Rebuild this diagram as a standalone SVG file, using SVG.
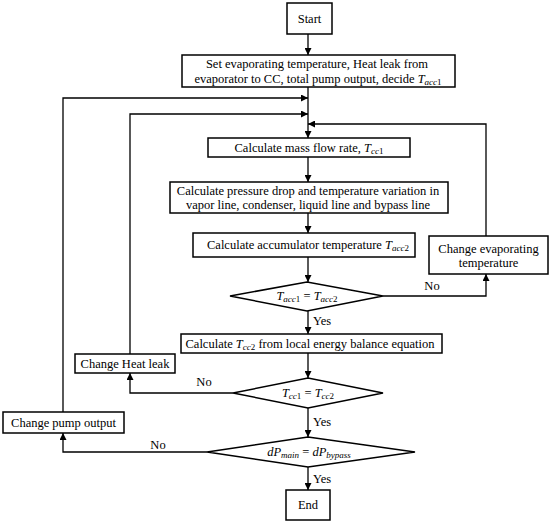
<svg xmlns="http://www.w3.org/2000/svg" width="550" height="525" viewBox="0 0 550 525">
<style>
.b{fill:#fff;stroke:#000;stroke-width:1.5}
.l{fill:none;stroke:#000;stroke-width:1.3}
text{font-family:"Liberation Serif","DejaVu Serif",serif;font-size:12.5px;fill:#000;text-anchor:middle}
.m{font-style:italic}
.s{font-size:9px}
</style>
<defs>
<marker id="a" viewBox="0 0 10 10" refX="10" refY="5" markerWidth="7" markerHeight="7" orient="auto" markerUnits="userSpaceOnUse">
<path d="M0,0 L10,5 L0,10 z" fill="#000"/>
</marker>
</defs>
<g id="connectors">
<line class="l" x1="308" y1="34" x2="308" y2="55" marker-end="url(#a)"/>
<line class="l" x1="308" y1="87" x2="308" y2="138" marker-end="url(#a)"/>
<line class="l" x1="308" y1="157" x2="308" y2="182" marker-end="url(#a)"/>
<line class="l" x1="308" y1="213" x2="308" y2="233" marker-end="url(#a)"/>
<line class="l" x1="308" y1="257" x2="308" y2="282" marker-end="url(#a)"/>
<line class="l" x1="308" y1="311" x2="308" y2="334" marker-end="url(#a)"/>
<line class="l" x1="308" y1="353" x2="308" y2="378" marker-end="url(#a)"/>
<line class="l" x1="308" y1="408" x2="308" y2="437" marker-end="url(#a)"/>
<line class="l" x1="308" y1="467" x2="308" y2="490" marker-end="url(#a)"/>
<polyline class="l" points="383,296 486,296 486,274" marker-end="url(#a)"/>
<polyline class="l" points="486,236 486,124 308,124" marker-end="url(#a)"/>
<polyline class="l" points="233,393 130,393 130,373" marker-end="url(#a)"/>
<polyline class="l" points="130,354 130,114 308,114" marker-end="url(#a)"/>
<polyline class="l" points="207,452 63,452 63,433" marker-end="url(#a)"/>
<polyline class="l" points="63,412 63,98 308,98" marker-end="url(#a)"/>
<text x="432" y="290">No</text>
<text x="322" y="325">Yes</text>
<text x="204" y="386">No</text>
<text x="322" y="426">Yes</text>
<text x="158" y="449">No</text>
<text x="322" y="483">Yes</text>
</g>
<g id="start">
<rect class="b" x="287" y="3" width="45" height="31"/>
<text x="309.5" y="23">Start</text>
</g>
<g id="set">
<rect class="b" x="182" y="55" width="273" height="32"/>
<text x="317" y="68">Set evaporating temperature, Heat leak from</text>
<text x="318" y="83">evaporator to CC, total pump output, decide <tspan class="m">T</tspan><tspan class="m s" dy="2">acc</tspan><tspan class="s">1</tspan></text>
</g>
<g id="massflow">
<rect class="b" x="208" y="138" width="202" height="19"/>
<text x="309" y="152">Calculate mass flow rate, <tspan class="m">T</tspan><tspan class="m s" dy="2">cc</tspan><tspan class="s">1</tspan></text>
</g>
<g id="pressure">
<rect class="b" x="170" y="182" width="278" height="31"/>
<text x="308" y="195">Calculate pressure drop and temperature variation in</text>
<text x="308" y="209">vapor line, condenser, liquid line and bypass line</text>
</g>
<g id="accumulator">
<rect class="b" x="193" y="233" width="222" height="24"/>
<text x="308" y="249">Calculate accumulator temperature <tspan class="m">T</tspan><tspan class="m s" dy="2">acc</tspan><tspan class="s">2</tspan></text>
</g>
<g id="changeevap">
<rect class="b" x="429" y="236" width="119" height="38"/>
<text x="488.5" y="253">Change evaporating</text>
<text x="488.5" y="267">temperature</text>
</g>
<g id="dec1">
<polygon class="b" points="230,296 307,282 383,296 307,311"/>
<text x="307" y="300"><tspan class="m">T</tspan><tspan class="m s" dy="2">acc</tspan><tspan class="s">1</tspan><tspan dy="-2"> = </tspan><tspan class="m">T</tspan><tspan class="m s" dy="2">acc</tspan><tspan class="s">2</tspan></text>
</g>
<g id="calctcc2">
<rect class="b" x="181" y="334" width="261" height="19"/>
<text x="310" y="348">Calculate <tspan class="m">T</tspan><tspan class="m s" dy="2">cc</tspan><tspan class="s">2</tspan><tspan dy="-2"> from local energy balance equation</tspan></text>
</g>
<g id="heatleak">
<rect class="b" x="75" y="354" width="100" height="19"/>
<text x="125" y="368">Change Heat leak</text>
</g>
<g id="dec2">
<polygon class="b" points="233,393 308,378 383,393 308,408"/>
<text x="308" y="397"><tspan class="m">T</tspan><tspan class="m s" dy="2">cc</tspan><tspan class="s">1</tspan><tspan dy="-2"> = </tspan><tspan class="m">T</tspan><tspan class="m s" dy="2">cc</tspan><tspan class="s">2</tspan></text>
</g>
<g id="pump">
<rect class="b" x="3" y="412" width="121" height="21"/>
<text x="63.5" y="427">Change pump output</text>
</g>
<g id="dec3">
<polygon class="b" points="207,452 308,437 415,452 308,467"/>
<text x="309" y="456"><tspan class="m">dP</tspan><tspan class="m s" dy="2">main</tspan><tspan dy="-2"> = </tspan><tspan class="m">dP</tspan><tspan class="m s" dy="2">bypass</tspan></text>
</g>
<g id="end">
<rect class="b" x="286" y="490" width="44" height="30"/>
<text x="308" y="509">End</text>
</g>
</svg>
